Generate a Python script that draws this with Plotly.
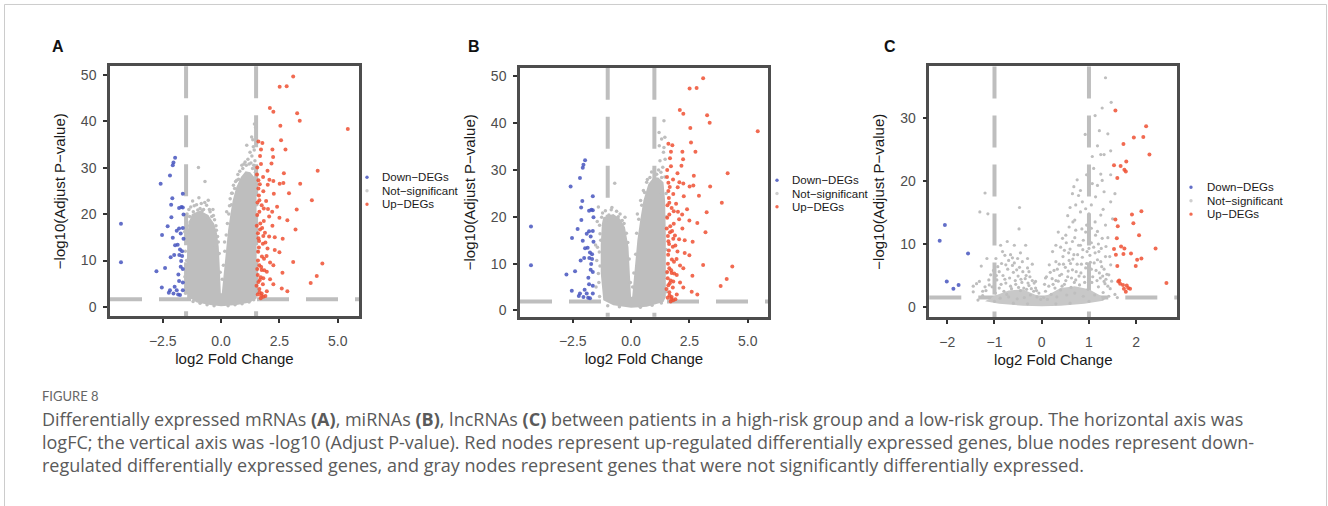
import plotly.graph_objects as go

W, H = 1328, 506

# ---------------- data ----------------
# Panel A (mRNAs) significant genes: (log2FC, -log10 adj P)
a_up = [(3.09,49.6),(2.51,47.4),(2.81,47.5),(2.09,42.8),(2.24,42.0),(3.26,41.7),(3.37,40.1),(5.43,38.3),
        (2.54,39.0),(2.57,35.9),(2.76,33.9),(1.77,35.3),(1.71,33.9),(2.20,33.9),(2.23,32.3),(1.67,32.5),
        (1.71,30.8),(2.16,30.9),(1.99,29.3),(4.14,29.3),(2.69,28.8),(1.80,28.0),(1.60,27.3),(2.07,27.4),
        (2.24,27.1),(1.66,26.4),(2.67,26.7),(2.51,26.5),(3.39,26.5),(1.60,25.5),(1.81,24.9),(2.26,24.4),
        (2.91,24.5),(3.89,23.0),(1.64,23.0),(1.93,22.8),(1.74,21.9),(1.83,21.2),(2.01,21.1),(2.19,20.5),
        (1.64,20.5),(3.24,21.0),(2.06,19.5),(2.50,19.2),(2.84,18.7),(1.83,18.5),(1.53,17.5),(2.20,17.5),
        (1.67,16.7),(3.19,16.7),(1.81,15.3),(2.06,15.2),(2.30,15.0),(2.64,14.7),(1.63,14.2),(1.79,13.6),
        (1.99,12.6),(1.59,11.9),(2.50,11.8),(1.84,10.4),(2.10,9.6),(2.24,9.0),(3.09,9.7),(4.34,9.4),
        (1.64,9.0),(1.74,8.0),(2.63,7.4),(1.96,7.6),(1.57,6.9),(1.81,6.2),(4.10,6.7),(1.60,5.4),
        (2.10,6.0),(3.84,5.2),(1.79,4.9),(2.24,4.9),(2.60,4.0),(2.84,3.4),(1.64,3.9),(1.74,2.9),
        (1.57,2.7),(1.81,2.2),(1.96,3.4),(1.70,1.9),(1.55,19.8),(1.62,12.8),(1.75,10.9),(1.58,15.9),
        (1.90,13.9),(1.70,6.4),(1.85,7.9),(1.52,4.6),(1.65,3.2),(1.90,2.4),(2.00,26.3),(1.55,30.0),
        (1.60,35.6),(2.40,21.6),(2.30,12.3),(1.56,22.5),(1.68,18.0),(1.72,8.6),(1.58,10.0),(1.62,24.0),
        (1.88,16.0),(1.54,28.5),(1.66,5.8),(1.76,17.0),(1.95,11.0),(1.55,8.2),(1.60,14.8),(1.72,2.5)]
a_down = [(-4.29,17.95),(-4.29,9.66),(-1.97,32.1),(-2.04,31.1),(-2.07,30.5),(-2.19,28.3),(-2.59,26.5),
          (-1.64,24.4),(-2.09,23.4),(-2.14,22.0),(-1.80,21.3),(-1.70,21.5),(-1.64,21.4),(-1.61,19.9),
          (-2.13,19.3),(-2.29,17.4),(-1.80,16.9),(-1.64,17.0),(-1.90,16.4),(-2.53,15.5),(-1.73,15.8),
          (-2.07,14.9),(-1.61,14.7),(-1.97,13.3),(-1.86,13.4),(-1.76,12.4),(-1.67,12.0),(-2.16,10.7),
          (-2.01,11.2),(-1.79,11.2),(-1.67,11.0),(-1.71,9.9),(-2.40,8.4),(-2.77,7.7),(-1.73,8.7),
          (-1.64,8.2),(-1.83,7.0),(-1.80,5.6),(-1.64,5.3),(-2.54,4.2),(-2.19,3.6),(-2.24,3.1),
          (-1.99,4.4),(-1.90,3.6),(-1.84,2.7),(-1.64,3.6),(-1.76,2.6),(-2.04,2.9)]
a_ns = [(-0.97,30.0),(-0.69,27.0),(1.43,39.4),(1.48,38.6),(1.10,34.8),(1.31,36.6),(1.24,33.3),(1.38,34.5),
        (1.03,31.2),(0.93,29.8),(0.89,30.5),(0.67,27.3),(0.53,26.2),(0.39,23.3),(0.24,20.5),(0.45,24.5),
        (0.72,28.5),(1.20,30.8),(1.45,31.5),(1.35,29.8),(-0.47,20.5),(-1.19,20.5),(-1.33,18.3),(-1.40,15.5),
        (-0.90,21.2),(-0.33,19.7),(-0.60,19.5),(-1.05,22.0),(-0.80,20.8),(-1.45,17.5),(-1.30,21.5),
        (-0.20,16.5),(-0.25,13.0),(0.15,14.0),(-1.48,10.0),(-1.47,4.0),(1.52,5.0),(1.50,15.0),
        (-1.52,3.0),(-1.55,6.5),(-1.50,9.0),(-1.53,12.0),(-1.50,14.5),(-1.56,16.2),(-1.49,18.8),(-1.46,20.0),
        (-1.38,21.0),(-1.35,19.5),(-1.15,21.8),(-1.00,20.9),(-0.85,22.3),(-0.75,21.0),(-0.62,21.9),(-0.50,21.0),
        (-0.40,19.5),(-0.35,21.0),(-0.28,18.8),(-0.22,17.5),(-0.15,15.2),(-0.12,14.0),(-0.55,23.0),(-1.22,22.8),
        (-0.95,23.5),(-0.70,22.5),(-0.08,11.5),(-0.04,7.5),(0.05,6.0),(0.10,9.0),(0.16,12.0),(0.22,15.5),
        (0.27,18.0),(0.33,20.0),(0.36,21.8),(0.44,22.0),(0.48,24.5),(0.58,25.5),(0.62,27.0),(0.75,27.5),
        (0.80,29.2),(0.98,30.8),(1.08,30.5),(1.15,31.8),(1.28,31.0),(1.32,32.5),(1.40,30.5),(1.47,29.0),
        (1.50,27.0),(1.53,22.0),(1.55,12.0),(1.53,9.0),(1.54,3.5),(-1.20,1.2),(-0.90,0.8),(-0.60,0.5),
        (-0.30,0.3),(0.30,0.3),(0.60,0.5),(0.90,0.7),(1.20,1.1),(1.40,1.6),(1.42,33.8),(1.36,36.0)]
# outline of the dense grey point cloud, panel A
a_core = [(-1.45,1.3),(-1.47,8),(-1.45,14),(-1.40,18),(-1.25,20),(-0.90,20.8),(-0.55,19.8),(-0.30,18),
          (-0.18,16),(-0.10,13),(-0.05,8),(-0.01,3),(0.03,3),(0.12,8),(0.20,12.5),(0.30,16.5),(0.40,20),
          (0.50,23),(0.65,25.8),(0.85,28),(1.05,29.2),(1.25,29),(1.42,28),(1.52,26),(1.52,16),(1.52,6),
          (1.53,1.9),(1.24,1.0),(0.67,0.43),(0.0,0.2),(-0.47,0.43),(-1.04,1.0),(-1.33,1.9)]

# Panel B (miRNAs)
b_up = list(a_up)
b_down = list(a_down)
b_ns = [(1.41,40.5),(1.31,36.6),(1.21,35.2),(1.39,33.8),(1.46,32.3),(1.24,32.0),(1.36,30.6),(1.41,34.8),
        (-0.70,27.2),(-1.40,22.1),(-1.26,19.9),(-0.47,20.6),(-0.26,19.9),(-1.04,19.2),(0.67,27.4),
        (0.53,25.6),(0.41,23.5),(0.27,20.6),(0.81,28.4),(1.10,29.1),(1.31,28.4),(-1.33,16.4),
        (-1.44,13.5),(-1.47,10.7),(-1.40,7.9),(1.20,38.0),(1.45,37.0),(1.30,25.0),(-0.85,21.5),
        (-1.35,3.0),(-1.38,6.0),(-1.33,9.5),(-1.36,12.5),(-1.30,15.0),(-1.35,18.2),(-1.22,20.8),(-1.10,21.3),
        (-0.95,20.4),(-0.82,22.0),(-0.62,21.2),(-0.55,20.0),(-0.38,19.2),(-0.30,18.6),(-0.20,16.5),
        (-0.14,14.5),(-0.08,11.0),(-0.03,6.0),(0.07,5.0),(0.12,8.0),(0.20,12.0),(0.24,16.5),(0.33,19.5),
        (0.46,22.5),(0.58,25.2),(0.70,28.0),(0.88,29.6),(1.00,30.2),(1.18,30.0),(1.28,29.5),(1.45,28.5),
        (1.50,25.0),(1.52,20.0),(1.50,13.0),(1.52,8.0),(1.50,4.0),(-1.00,1.0),(-0.50,0.8),(0.40,0.7),
        (0.90,1.1),(1.30,1.6),(-1.50,5.0),(-1.52,14.0),(-1.45,19.0)]
b_core = [(-1.19,2.2),(-1.30,8),(-1.30,14),(-1.25,18.5),(-1.19,19.9),(-0.76,20.6),(-0.47,19.6),(-0.26,17.8),
          (-0.11,13.5),(-0.04,8),(0.0,2.9),(0.05,3),(0.17,9.3),(0.27,15),(0.39,19.2),(0.53,23.5),(0.74,27),
          (0.96,28.4),(1.17,28.4),(1.39,27.4),(1.46,23.5),(1.49,16.4),(1.49,2.9),(1.39,1.8),(0.67,0.8),
          (0.0,0.6),(-0.76,1.1)]

# Panel C (lncRNAs)
c_up = [(1.56,31.2),(2.21,28.7),(1.95,26.9),(2.15,27.0),(1.73,25.9),(2.28,24.2),(1.53,22.5),(1.67,22.4),
        (1.79,23.1),(1.75,21.8),(1.78,21.5),(1.60,20.5),(1.91,14.7),(2.11,15.2),(1.56,13.9),(1.94,13.3),
        (1.61,12.8),(2.06,11.4),(1.59,10.9),(1.68,9.6),(1.75,9.3),(2.41,9.3),(1.53,9.2),(1.89,8.5),
        (1.57,8.3),(1.73,8.4),(2.11,7.7),(2.02,7.5),(1.99,6.5),(1.60,6.5),(2.64,3.8),(1.62,4.05),
        (1.66,3.7),(1.72,3.5),(1.80,3.4),(1.83,3.0),(1.74,2.9),(1.78,2.4),(1.87,2.9),(1.64,4.2)]
c_down = [(-2.05,13.0),(-2.16,10.5),(-1.56,8.5),(-2.01,4.05),(-1.87,2.9),(-1.76,3.5)]
c_ns = [(1.35,36.4),(1.47,32.5),(1.28,31.6),(1.13,30.4),(0.92,27.4),(1.18,25.6),(1.25,24.2),(1.32,24.2),
        (1.46,24.8),(1.07,23.9),(1.25,21.1),(1.46,21.0),(1.28,20.1),(1.07,19.6),(1.18,19.3),(0.68,19.1),
        (0.82,18.5),(0.65,18.0),(0.78,17.7),(1.14,17.5),(1.32,18.3),(1.46,16.7),(0.86,16.7),(0.72,16.2),
        (0.93,15.6),(0.82,15.1),(1.00,14.8),(1.25,14.6),(1.13,13.5),(1.35,13.0),(0.66,13.5),(0.58,12.7),
        (0.72,12.2),(0.93,11.9),(1.14,11.4),(1.28,10.9),(0.51,11.4),(0.35,11.9),(0.44,10.9),(0.65,10.4),
        (0.82,9.8),(1.00,9.3),(1.21,8.8),(1.35,8.0),(1.46,6.7),(1.42,5.1),(1.32,4.05),(0.23,8.8),
        (0.30,7.2),(0.16,6.7),(0.08,4.6),(-1.20,18.1),(-1.31,15.1),(-1.14,14.8),(-0.47,15.8),(-0.48,12.4),
        (-1.16,7.7),(-1.28,6.5),(-1.32,4.05),(-1.45,3.3),(-1.38,3.7),(-0.87,9.8),(-0.73,10.4),(-0.58,9.8),
        (-0.34,9.8),(-0.30,7.7),(-0.83,8.8),(-0.97,7.7),(-0.66,8.3),(-0.51,7.7),(-0.76,6.7),(-0.90,5.6),
        (-1.08,5.1),(-1.11,3.5),(-1.25,2.5),(-0.27,5.6),(-0.13,4.05),(1.10,22.0),(0.95,21.0),(1.40,27.5),
        (1.22,28.0),(0.75,20.2),(0.55,14.5),(1.05,12.5),(1.40,11.0),(0.40,9.5),(1.50,14.0),(1.55,18.0),
        (-1.25,1.8),(-1.18,2.6),(-1.10,1.5),(-1.05,3.2),(-0.98,2.2),(-0.95,4.3),(-0.90,3.0),(-0.88,1.4),
        (-0.82,5.0),(-0.80,2.5),(-0.76,3.8),(-0.72,6.0),(-0.70,1.6),(-0.68,4.6),(-0.64,2.9),(-0.60,5.5),
        (-0.58,7.0),(-0.55,3.6),(-0.52,1.3),(-0.50,4.9),(-0.47,6.3),(-0.45,2.6),(-0.42,3.9),(-0.40,5.6),
        (-0.37,1.5),(-0.35,4.5),(-0.32,2.8),(-0.30,6.2),(-0.27,3.4),(-0.24,1.9),(-0.20,4.2),(-0.17,2.5),
        (-0.13,3.0),(-0.10,1.6),(-0.06,2.2),(-0.02,1.2),(0.04,1.5),(0.08,2.5),(0.12,1.2),(0.15,3.3),
        (0.20,2.0),(0.22,4.5),(0.26,5.8),(0.28,3.0),(0.32,1.6),(0.35,4.1),(0.37,6.8),(0.40,2.7),
        (0.42,5.2),(0.45,8.0),(0.48,3.6),(0.50,6.3),(0.53,1.9),(0.55,4.8),(0.58,7.4),(0.60,9.2),
        (0.62,3.1),(0.65,5.9),(0.68,8.3),(0.70,2.2),(0.72,4.3),(0.75,6.8),(0.78,9.8),(0.80,3.5),
        (0.83,5.4),(0.86,7.9),(0.88,1.7),(0.90,4.8),(0.93,6.2),(0.96,8.8),(0.98,2.8),(1.00,5.3),
        (1.03,7.1),(1.06,3.9),(1.10,9.5),(1.12,1.9),(1.15,5.8),(1.18,7.5),(1.20,3.2),(1.24,4.6),
        (1.27,6.4),(1.30,2.3),(1.34,3.7),(1.38,5.2),(1.42,1.7),(1.45,2.9),(1.48,4.1),(-1.35,1.1),
        (-1.00,0.9),(-0.60,0.6),(-0.30,0.5),(0.30,0.5),(0.60,0.6),(1.00,0.9),(1.30,1.3),(1.55,2.0),
        (-1.45,2.4),(1.60,1.5),(-0.62,7.8),(-0.45,8.6),(-0.85,6.9),(0.52,10.2),(0.70,11.0),(0.88,10.6),
        (1.05,10.2),(1.20,10.0),(0.30,9.8),(-0.20,6.8),
        (-1.02,5.8),(-0.93,6.4),(-0.86,3.6),(-0.78,4.4),(-0.74,2.0),(-0.66,3.3),(-0.62,6.6),(-0.56,4.2),
        (-0.53,5.9),(-0.49,3.1),(-0.44,4.4),(-0.41,7.2),(-0.38,3.0),(-0.33,5.0),(-0.29,3.8),(-0.25,4.8),
        (-0.22,2.9),(-0.16,3.8),(-0.11,2.6),(-0.70,7.4),(-0.78,8.2),(-0.96,5.0),(-1.12,4.3),(-1.20,3.2),
        (0.06,3.6),(0.10,4.8),(0.18,5.5),(0.24,3.6),(0.30,4.2),(0.33,6.0),(0.38,5.0),(0.43,3.3),
        (0.46,6.8),(0.51,4.2),(0.56,5.7),(0.61,6.9),(0.63,4.6),(0.66,7.6),(0.69,3.9),(0.73,5.6),
        (0.76,8.3),(0.79,4.9),(0.84,6.8),(0.87,9.1),(0.91,3.9),(0.95,6.9),(0.99,4.3),(1.02,8.2),
        (1.05,6.0),(1.08,4.8),(1.11,7.0),(1.13,8.6),(1.17,4.2),(1.22,5.4),(1.25,7.2),(1.29,4.9),
        (1.32,6.0),(1.36,4.4),(1.40,3.3),(1.26,9.3),(1.36,9.6),(1.44,8.0),(0.57,8.6),(0.48,9.0),
        (0.85,12.4),(0.70,13.8),(1.18,12.0),(0.95,13.0),(1.30,15.5),(1.05,16.2),(0.60,15.8)]
# dense bottom band of panel C
c_core = [(-1.20,0.9),(-1.00,1.8),(-0.70,2.6),(-0.40,2.8),(-0.15,2.0),(0.0,1.6),(0.15,2.0),(0.40,3.0),
          (0.70,3.3),(1.00,2.8),(1.25,1.8),(1.30,1.0),(0.90,0.5),(0.40,0.2),(0.0,0.1),(-0.40,0.2),
          (-0.90,0.5)]

legend_labels = ["Down\u2212DEGs", "Not\u2212significant", "Up\u2212DEGs"]
panel_letters = ["A", "B", "C"]
caption_head = "FIGURE 8"
caption_lines = [
    "Differentially expressed mRNAs <b>(A)</b>, miRNAs <b>(B)</b>, lncRNAs <b>(C)</b> between patients in a high-risk group and a low-risk group. The horizontal axis was",
    "logFC; the vertical axis was -log10 (Adjust P-value). Red nodes represent up-regulated differentially expressed genes, blue nodes represent down-",
    "regulated differentially expressed genes, and gray nodes represent genes that were not significantly differentially expressed.",
]

# ---------------- styling ----------------
RED = "rgba(238,80,50,0.85)"
BLUE = "rgba(70,85,190,0.85)"
GREY = "#BEBEBE"
FONT = "Liberation Sans, Arial, sans-serif"

panels = [
    dict(up=a_up, down=a_down, ns=a_ns, core=a_core, thr=1.5, thy=1.7,
         dx=(110, 359), dy=(66.5, 317.5), xr=[-4.76, 5.91], yr=[-1.97, 51.8],
         xt=[-2.5, 0, 2.5, 5.0], yt=[0, 10, 20, 30, 40, 50], fmt=".1f",
         leg=(367, 380, [178, 191.5, 205]), lab=(50, 47), corefill=GREY, nsize=3.5),
    dict(up=b_up, down=b_down, ns=b_ns, core=b_core, thr=1.0, thy=1.9,
         dx=(520, 768), dy=(68, 318), xr=[-4.76, 5.87], yr=[-1.34, 51.85],
         xt=[-2.5, 0, 2.5, 5.0], yt=[0, 10, 20, 30, 40, 50], fmt=".1f",
         leg=(777, 790, [181, 194.3, 207.6]), lab=(466, 47), corefill=GREY, nsize=3.5),
    dict(up=c_up, down=c_down, ns=c_ns, core=c_core, thr=1.0, thy=1.5,
         dx=(929.3, 1177.3), dy=(66.7, 318.3), xr=[-2.38, 2.87], yr=[-1.6, 38.2],
         xt=[-2, -1, 0, 1, 2], yt=[0, 10, 20, 30], fmt="d",
         leg=(1191, 1204.5, [188, 201.5, 215]), lab=(882, 47), corefill="#C8C8C8", nsize=3.2),
]

fig = go.Figure()
shapes = []
annotations = []

for i, p in enumerate(panels):
    n = "" if i == 0 else str(i + 1)
    xa, ya = "x" + n, "y" + n
    # dense cloud outline
    cx, cy = zip(*p["core"])
    fig.add_trace(go.Scatter(x=list(cx) + [cx[0]], y=list(cy) + [cy[0]], xaxis=xa, yaxis=ya,
                             mode="lines", fill="toself", fillcolor=p["corefill"],
                             line=dict(width=0), hoverinfo="skip", showlegend=False))
    for pts, col, size in [(p["ns"], GREY, p["nsize"]), (p["down"], BLUE, 4), (p["up"], RED, 4)]:
        px_, py_ = zip(*pts)
        fig.add_trace(go.Scatter(x=px_, y=py_, xaxis=xa, yaxis=ya, mode="markers",
                                 marker=dict(color=col, size=size, line=dict(width=0)),
                                 showlegend=False))
    # threshold lines
    dash = "32px,17px"
    for xv in (-p["thr"], p["thr"]):
        shapes.append(dict(type="line", xref=xa, yref=ya + " domain", x0=xv, x1=xv, y0=1, y1=0,
                           line=dict(color=GREY, width=4, dash=dash), layer="below"))
    shapes.append(dict(type="line", xref=xa + " domain", yref=ya, x0=0, x1=1, y0=p["thy"], y1=p["thy"],
                       line=dict(color=GREY, width=4, dash=dash), layer="below"))
    axx = dict(domain=[p["dx"][0] / W, p["dx"][1] / W], range=p["xr"], anchor=ya,
               showline=True, mirror=True, linecolor="#4d4d4d", linewidth=2.5,
               showgrid=False, zeroline=False, ticks="outside", ticklen=4, tickwidth=2,
               tickcolor="#333333", tickvals=p["xt"], tickformat=p["fmt"],
               tickfont=dict(size=14, color="#4d4d4d"), ticklabelstandoff=6,
               title=dict(text="log2 Fold Change", font=dict(size=15, color="#1a1a1a"), standoff=6))
    axy = dict(domain=[1 - p["dy"][1] / H, 1 - p["dy"][0] / H], range=p["yr"], anchor=xa,
               showline=True, mirror=True, linecolor="#4d4d4d", linewidth=2.5,
               showgrid=False, zeroline=False, ticks="outside", ticklen=4, tickwidth=2,
               tickcolor="#333333", tickvals=p["yt"],
               tickfont=dict(size=14, color="#4d4d4d"), ticklabelstandoff=4,
               title=dict(text="\u2212log10(Adjust P\u2212value)", font=dict(size=15, color="#1a1a1a"), standoff=12))
    fig.layout["xaxis" + n] = axx
    fig.layout["yaxis" + n] = axy
    # legend (drawn as annotations + dots)
    mx, tx, rows = p["leg"]
    for lbl, col, ry in zip(legend_labels, [BLUE, "#CFCFCF", RED], rows):
        shapes.append(dict(type="circle", xref="paper", yref="paper",
                           x0=(mx - 1.7) / W, x1=(mx + 1.7) / W, y0=1 - (ry + 1.7) / H, y1=1 - (ry - 1.7) / H,
                           fillcolor=col, line=dict(width=0)))
        annotations.append(dict(text=lbl, xref="paper", yref="paper", x=tx / W, y=1 - ry / H,
                                xanchor="left", yanchor="middle", showarrow=False,
                                font=dict(size=11.5, color="#1a1a1a", family=FONT)))
    annotations.append(dict(text="<b>%s</b>" % panel_letters[i], xref="paper", yref="paper",
                            x=p["lab"][0] / W, y=1 - p["lab"][1] / H, xanchor="left", yanchor="middle",
                            showarrow=False, font=dict(size=16, color="#111111", family=FONT)))

# caption
CAP = "Open Sans, Noto Sans, sans-serif"
annotations.append(dict(text=caption_head, xref="paper", yref="paper", x=40 / W, y=1 - 398 / H,
                        xanchor="left", yanchor="middle", showarrow=False,
                        font=dict(size=13, color="#666666", family="Lato, sans-serif")))
for k, line in enumerate(caption_lines):
    annotations.append(dict(text=line, xref="paper", yref="paper", x=40 / W, y=1 - (421 + 23 * k) / H,
                            xanchor="left", yanchor="middle", showarrow=False,
                            font=dict(size=18, color="#5a5a5a", family=CAP)))

# outer frame
shapes.append(dict(type="rect", xref="paper", yref="paper", x0=4.5 / W, x1=1326.5 / W,
                   y0=-0.1, y1=1 - 4.5 / H, line=dict(color="#CCCCCC", width=1), layer="below"))

fig.update_layout(width=W, height=H, margin=dict(l=0, r=0, t=0, b=0),
                  paper_bgcolor="white", plot_bgcolor="white",
                  font=dict(family=FONT), shapes=shapes, annotations=annotations, showlegend=False)

fig.write_html("out.html")
